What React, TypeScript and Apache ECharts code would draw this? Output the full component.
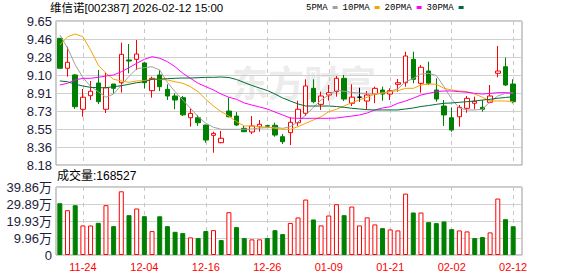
import React, { useEffect, useRef } from 'react';
import * as echarts from 'echarts';

const dates = [
  '11-19', '11-20', '11-21', '11-24', '11-25', '11-26', '11-27', '11-28',
  '12-01', '12-02', '12-03', '12-04', '12-05', '12-08', '12-09', '12-10', '12-11', '12-12',
  '12-15', '12-16', '12-17', '12-18', '12-19', '12-22', '12-23', '12-24', '12-25', '12-26',
  '12-29', '12-30', '12-31', '01-05', '01-06', '01-07', '01-08', '01-09',
  '01-12', '01-13', '01-14', '01-15', '01-16', '01-19', '01-20', '01-21', '01-22', '01-23',
  '01-26', '01-27', '01-28', '01-29', '01-30', '02-02', '02-03', '02-04', '02-05', '02-06',
  '02-09', '02-10', '02-11', '02-12',
];

const opens = [
  9.469, 9.164, 9.096, 8.747, 8.885, 9.014, 8.747, 9.004, 9.017, 9.248,
  9.255, 9.218, 8.936, 9.096, 8.950, 8.882, 8.865, 8.661, 8.661, 8.587,
  8.482, 8.407, 8.729, 8.678, 8.553, 8.516, 8.570, 8.580, 8.584, 8.468,
  8.509, 8.610, 8.706, 8.960, 8.797, 8.892, 8.926, 9.062, 8.808, 8.870,
  8.831, 8.902, 8.943, 8.902, 9.001, 9.017, 9.255, 9.011, 9.136, 8.943,
  8.780, 8.661, 8.671, 8.757, 8.808, 8.767, 8.818, 9.113, 9.180, 9.004,
];
const closes = [
  9.164, 9.225, 8.773, 8.869, 8.930, 8.824, 8.966, 8.960, 9.306, 9.238,
  9.309, 9.017, 9.062, 8.977, 8.882, 8.841, 8.690, 8.705, 8.610, 8.434,
  8.502, 8.452, 8.671, 8.587, 8.519, 8.577, 8.594, 8.575, 8.485, 8.417,
  8.614, 8.747, 8.984, 8.824, 8.882, 8.916, 9.062, 8.851, 8.870, 8.870,
  8.892, 8.960, 8.902, 8.936, 9.017, 9.289, 9.052, 9.174, 9.011, 8.851,
  8.689, 8.536, 8.767, 8.858, 8.828, 8.747, 8.882, 9.136, 8.994, 8.824,
];
const lows = [
  9.164, 9.078, 8.750, 8.671, 8.841, 8.801, 8.709, 8.909, 8.916, 9.113,
  9.146, 8.960, 8.865, 8.933, 8.841, 8.747, 8.678, 8.570, 8.577, 8.407,
  8.305, 8.401, 8.665, 8.577, 8.513, 8.495, 8.519, 8.570, 8.468, 8.394,
  8.383, 8.577, 8.678, 8.808, 8.740, 8.834, 8.875, 8.831, 8.780, 8.824,
  8.747, 8.808, 8.834, 8.841, 8.926, 8.977, 9.011, 8.916, 8.994, 8.824,
  8.577, 8.519, 8.570, 8.712, 8.747, 8.722, 8.808, 9.072, 8.984, 8.808,
];
const highs = [
  9.469, 9.384, 9.106, 8.953, 9.035, 9.146, 9.119, 9.004, 9.424, 9.411,
  9.452, 9.225, 9.078, 9.146, 9.001, 8.909, 8.882, 8.757, 8.689, 8.587,
  8.519, 8.526, 8.865, 8.719, 8.577, 8.678, 8.638, 8.590, 8.610, 8.495,
  8.665, 8.834, 9.052, 9.052, 8.926, 8.994, 9.085, 9.096, 9.001, 8.966,
  8.933, 8.977, 8.977, 8.960, 9.055, 9.333, 9.333, 9.197, 9.231, 9.062,
  8.841, 8.767, 8.790, 8.882, 8.875, 8.841, 8.994, 9.391, 9.272, 9.052,
];

const ma5 = [
  9.503, 9.370, 9.200, 9.070, 8.980, 8.926, 8.869, 8.902, 8.994, 9.080,
  9.160, 9.170, 9.180, 9.146, 9.020, 8.926, 8.841, 8.757, 8.671, 8.604,
  8.564, 8.543, 8.543, 8.543, 8.543, 8.546, 8.556, 8.560, 8.564, 8.553,
  8.570, 8.620, 8.689, 8.767, 8.841, 8.892, 8.940, 8.930, 8.920, 8.910,
  8.905, 8.900, 8.910, 8.930, 8.955, 9.027, 9.060, 9.105, 9.113, 9.090,
  8.977, 8.850, 8.760, 8.740, 8.740, 8.747, 8.824, 8.882, 8.910, 8.915,
];
const ma10 = [
  9.401, 9.485, 9.513, 9.485, 9.350, 9.197, 9.113, 9.052, 9.035, 9.021,
  9.035, 9.038, 9.052, 9.052, 9.045, 9.027, 9.011, 8.977, 8.926, 8.848,
  8.780, 8.722, 8.678, 8.620, 8.577, 8.577, 8.570, 8.564, 8.553, 8.543,
  8.543, 8.570, 8.604, 8.638, 8.671, 8.722, 8.747, 8.780, 8.814, 8.841,
  8.869, 8.902, 8.916, 8.926, 8.936, 8.960, 8.960, 8.994, 9.004, 9.001,
  8.960, 8.943, 8.933, 8.926, 8.902, 8.869, 8.831, 8.831, 8.831, 8.824,
];
const ma20 = [
  8.994, 9.011, 9.045, 9.062, 9.062, 9.072, 9.085, 9.096, 9.129, 9.170,
  9.215, 9.255, 9.282, 9.266, 9.231, 9.180, 9.113, 9.062, 9.011, 8.977,
  8.943, 8.902, 8.869, 8.848, 8.811, 8.790, 8.770, 8.750, 8.719, 8.689,
  8.658, 8.655, 8.655, 8.655, 8.655, 8.655, 8.658, 8.668, 8.678, 8.689,
  8.709, 8.740, 8.760, 8.773, 8.808, 8.831, 8.859, 8.892, 8.909, 8.926,
  8.933, 8.933, 8.926, 8.920, 8.909, 8.902, 8.909, 8.916, 8.916, 8.909,
];
const ma30 = [
  9.035, 9.027, 9.001, 8.984, 8.970, 8.966, 8.966, 8.977, 8.987, 9.001,
  9.017, 9.027, 9.052, 9.055, 9.058, 9.062, 9.065, 9.065, 9.068, 9.072,
  9.072, 9.075, 9.070, 9.050, 9.019, 8.989, 8.963, 8.938, 8.902, 8.862,
  8.831, 8.801, 8.780, 8.780, 8.780, 8.780, 8.775, 8.767, 8.757, 8.750,
  8.743, 8.740, 8.740, 8.740, 8.740, 8.750, 8.760, 8.775, 8.785, 8.797,
  8.808, 8.811, 8.818, 8.824, 8.831, 8.841, 8.848, 8.859, 8.867, 8.875,
];

const volumes = [
  303500, 262600, 291800, 173300, 173000, 188500, 292000, 169200, 373500, 233400,
  272500, 227600, 140100, 227000, 169000, 136000, 128400, 103300, 99200, 140500,
  145900, 87500, 251000, 163400, 99000, 91600, 91800, 99500, 145500, 122600,
  188000, 220000, 325000, 208300, 173500, 231700, 297600, 233400, 284200, 173300,
  220500, 179200, 157600, 150000, 144100, 360000, 249200, 249000, 192600, 186800,
  196700, 151700, 144000, 138300, 99200, 105000, 132500, 330900, 210100, 168527,
];

const priceTicks = ['8.18', '8.36', '8.55', '8.73', '8.91', '9.10', '9.28', '9.46', '9.65'];
const volumeTicks = ['0', '9.96万', '19.93万', '29.89万', '39.86万'];
const xLabelDates = ['11-24', '12-04', '12-16', '12-26', '01-09', '01-21', '02-02', '02-12'];
const maNames = ['5PMA', '10PMA', '20PMA', '30PMA'];

const PRICE_MIN = 8.18;
const PRICE_MAX = 9.645;
const VOL_MAX = 398600;

const RED = '#ff0000';
const GREEN = '#008000';
const MA_COLORS = ['#a0a0a0', '#f5a300', '#ff00ff', '#006b36'];

export default function App() {
  const ref = useRef<HTMLDivElement>(null);

  useEffect(() => {
    if (!ref.current) return;
    const chart = echarts.init(ref.current, null, { renderer: 'svg' });

    const PRICE_STEP = (PRICE_MAX - PRICE_MIN) / (priceTicks.length - 1);
    const VOL_STEP = VOL_MAX / (volumeTicks.length - 1);

    const candleData = dates.map((_, i) => [opens[i], closes[i], lows[i], highs[i]]);
    const volData = volumes.map((v, i) => {
      const up = i === 0 ? closes[i] >= opens[i] : closes[i] >= closes[i - 1];
      return {
        value: v,
        itemStyle: up
          ? { color: '#ffffff', borderColor: RED, borderWidth: 1 }
          : { color: GREEN, borderColor: GREEN, borderWidth: 1 },
      };
    });
    const showDate = (_idx: number, val: string) => xLabelDates.indexOf(val) >= 0;
    const maSeries = [ma5, ma10, ma20, ma30];

    const dashed = {
      show: true,
      interval: showDate,
      alignWithLabel: true,
      lineStyle: { color: '#c8c8c8', type: [4, 4] as any, width: 1 },
    };

    const option: any = {
      animation: false,
      backgroundColor: '#ffffff',
      legend: {
        left: 306,
        top: 3,
        align: 'right',
        icon: 'rect',
        itemWidth: 5,
        itemHeight: 3,
        itemGap: 5,
        selectedMode: false,
        padding: 0,
        data: maNames.map((n, i) => ({ name: n, itemStyle: { color: MA_COLORS[i] } })),
        textStyle: { fontFamily: 'Liberation Mono, monospace', fontSize: 9, color: '#000' },
      },
      graphic: [
        {
          type: 'text',
          left: 232,
          top: 63,
          z: -10,
          silent: true,
          style: {
            text: '东方财富',
            fontSize: 36,
            fontWeight: 'bold',
            fontFamily: 'Noto Sans CJK SC',
            fill: '#ececec',
          },
        },
        {
          type: 'text',
          left: 50,
          top: 2,
          style: {
            text: '维信诺[002387] 2026-02-12 15:00',
            fontSize: 11.5,
            fontFamily: 'Liberation Sans, Noto Sans CJK SC',
            fill: '#000',
          },
        },
        {
          type: 'text',
          left: 57,
          top: 170,
          style: {
            text: '成交量:' + volumes[volumes.length - 1],
            fontSize: 12,
            fontFamily: 'Liberation Sans, Noto Sans CJK SC',
            fill: '#000',
          },
        },
      ],
      grid: [
        { left: 56, top: 21, width: 466, height: 144, show: true, borderColor: '#999', borderWidth: 1, backgroundColor: 'transparent' },
        { left: 56, top: 21, width: 461, height: 144 },
        { left: 56, top: 187, width: 466, height: 68, show: true, borderColor: '#999', borderWidth: 1, backgroundColor: 'transparent' },
        { left: 56, top: 187, width: 461, height: 68 },
      ],
      xAxis: [
        { gridIndex: 0, type: 'category', data: dates, show: false },
        {
          gridIndex: 1, type: 'category', data: dates,
          axisLine: { show: false }, axisTick: { show: false }, axisLabel: { show: false },
          splitLine: dashed,
        },
        { gridIndex: 2, type: 'category', data: dates, show: false },
        {
          gridIndex: 3, type: 'category', data: dates,
          axisLine: { show: false }, axisTick: { show: false },
          axisLabel: { interval: showDate, color: RED, fontSize: 11, fontFamily: 'Liberation Sans, Arial', margin: 6 },
          splitLine: dashed,
        },
      ],
      yAxis: [
        {
          gridIndex: 0, type: 'value', min: PRICE_MIN, max: PRICE_MAX, interval: PRICE_STEP,
          axisLine: { show: false }, axisTick: { show: false },
          splitLine: { show: true, lineStyle: { color: '#d0d0d0', width: 1 } },
          axisLabel: {
            margin: 4, fontSize: 13, color: '#1c1c3c', fontFamily: 'Liberation Sans, Arial',
            formatter: (v: number) => priceTicks[Math.round((v - PRICE_MIN) / PRICE_STEP)] ?? '',
          },
        },
        { gridIndex: 1, type: 'value', min: PRICE_MIN, max: PRICE_MAX, show: false, splitLine: { show: false } },
        {
          gridIndex: 2, type: 'value', min: 0, max: VOL_MAX, interval: VOL_STEP,
          axisLine: { show: false }, axisTick: { show: false },
          splitLine: { show: true, lineStyle: { color: '#d0d0d0', width: 1 } },
          axisLabel: {
            margin: 4, fontSize: 13, color: '#1c1c3c', fontFamily: 'Liberation Sans, Noto Sans CJK SC',
            formatter: (v: number) => volumeTicks[Math.round(v / VOL_STEP)] ?? '',
          },
        },
        { gridIndex: 3, type: 'value', min: 0, max: VOL_MAX, show: false, splitLine: { show: false } },
      ],
      series: [
        {
          type: 'candlestick',
          xAxisIndex: 1,
          yAxisIndex: 1,
          data: candleData,
          barWidth: 5,
          itemStyle: {
            color: '#ffffff',
            color0: GREEN,
            borderColor: RED,
            borderColor0: GREEN,
            borderColorDoji: '#000000',
            borderWidth: 1,
          },
        },
        ...maSeries.map((d, i) => ({
          name: maNames[i],
          type: 'line',
          xAxisIndex: 1,
          yAxisIndex: 1,
          data: d,
          showSymbol: false,
          symbol: 'none',
          color: MA_COLORS[i],
          lineStyle: { width: 1, color: MA_COLORS[i] },
        })),
        {
          type: 'bar',
          xAxisIndex: 3,
          yAxisIndex: 3,
          data: volData,
          barWidth: 5,
        },
      ],
    };

    chart.setOption(option);
    return () => chart.dispose();
  }, []);

  return (
    <div
      ref={ref}
      style={{ position: 'fixed', left: 0, top: 0, width: 578, height: 276, background: '#fff' }}
    />
  );
}
